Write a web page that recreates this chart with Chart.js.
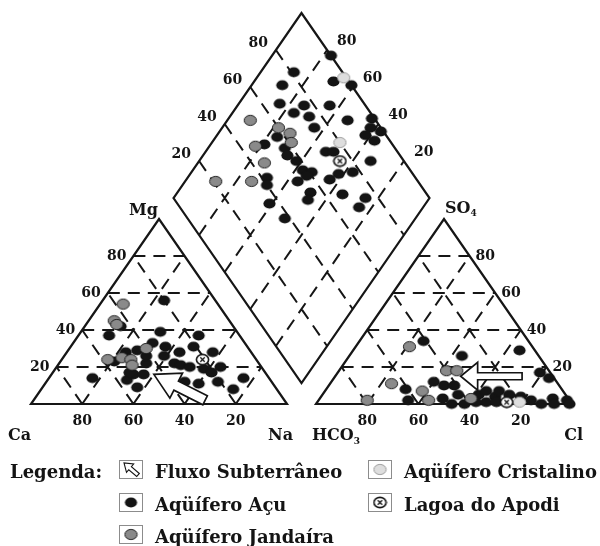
<!DOCTYPE html>
<html lang="pt">
<head>
<meta charset="UTF-8">
<title>Diagrama de Piper</title>
<script src="https://cdn.jsdelivr.net/npm/chart.js"></script>
<style>
body { margin: 0; background: #fff; }
#piper { display: block; }
</style>
</head>
<body>
<canvas id="piper" width="600" height="546"></canvas>
<script>
const gridSteps = [20, 40, 60, 80];

// cation triangle: [Na+K %, Mg %]
const cationAcu = [[24,56],[14,42],[12,37],[31,39],[47,37],[31,33],[27,29],[23,28],[37,31],[48,31],[57,28],[39,26],[44,28],[21,23],[34,22],[45,22],[48,21],[52,20],[58,19],[64,20],[62,17],[32,16],[36,16],[31,13],[17,14],[37,9],[54,12],[60,11],[67,12],[76,14],[75,8],[32,26],[30,17]];
const cationJandaira = [[9,54],[10,45],[12,43],[18,24],[23,25],[27,24],[29,21],[30,30]];
const cationLagoa = [[55,24]];

// anion triangle: [Cl %, SO4 %]
const anionAcu = [[25,34],[44,26],[65,29],[79,17],[84,14],[40,12],[45,10],[49,10],[31,8],[35,2],[48,3],[53,0],[53,5],[58,0],[61,5],[63,7],[68,4],[68,7],[73,5],[66,1],[70,1],[83,2],[88,0],[91,3],[93,0],[97,2],[99,0],[62,1],[78,4]];
const anionJandaira = [[21,31],[42,18],[46,18],[24,11],[38,7],[43,2],[19,2],[59,3]];
const anionCristalino = [[79,1]];
const anionLagoa = [[74,1]];

// diamond: [Na+K %, SO4+Cl %]
const diamondAcu = [[23,100],[13,81],[31,94],[39,100],[12,73],[16,67],[24,70],[26,76],[31,75],[36,86],[36,74],[47,89],[56,99],[58,96],[63,99],[58,92],[63,94],[24,57],[21,50],[30,57],[33,56],[38,58],[47,72],[50,75],[67,87],[43,58],[47,61],[44,53],[46,58],[58,71],[56,66],[63,77],[31,42],[33,40],[52,55],[53,52],[65,67],[75,75],[75,70],[39,36],[49,38]];
const diamondJandaira = [[9,51],[22,60],[28,63],[31,61],[18,46],[26,45],[26,35],[12,21]];
const diamondCristalino = [[34,99],[50,80]];
const diamondLagoa = [[55,75]];

// groundwater flow arrows (from -> to)
const flowCation = { from: [67, 2], to: [40, 16] };
const flowAnion = { from: [73, 15], to: [49, 15] };

const GAP = 29 / 256;
const cat = p => ({ x: (p[0] + p[1] / 2) / 100, y: p[1] / 100 });
const ani = p => ({ x: 1 + GAP + (p[0] + p[1] / 2) / 100, y: p[1] / 100 });
const dia = p => ({ x: (p[0] + p[1]) / 200 + (1 + GAP) / 2, y: 1 + GAP + (p[1] - p[0]) / 100 });

function makeMarker(fill, stroke, lw, cross) {
  const c = document.createElement('canvas');
  c.width = 15; c.height = 13;
  const g = c.getContext('2d');
  g.beginPath();
  g.ellipse(7.5, 6.5, 6.1, 5.1, 0, 0, Math.PI * 2);
  g.fillStyle = fill;
  g.fill();
  if (stroke) { g.lineWidth = lw; g.strokeStyle = stroke; g.stroke(); }
  if (cross) {
    g.beginPath();
    g.moveTo(5.3, 4.3); g.lineTo(9.7, 8.7);
    g.moveTo(9.7, 4.3); g.lineTo(5.3, 8.7);
    g.lineWidth = 1.3; g.stroke();
  }
  return c;
}
const mkAcu = makeMarker('#141414');
const mkJandaira = makeMarker('#8a8a8a', '#1e1e1e', 1);
const mkCristalino = makeMarker('#dedede', '#9a9a9a', 1);
const mkLagoa = makeMarker('#ffffff', '#141414', 1.6, true);

function drawArrow(ctx, a, b, w, hw, hl, lw) {
  const dx = b[0] - a[0], dy = b[1] - a[1], L = Math.hypot(dx, dy);
  const ux = dx / L, uy = dy / L, nx = -uy, ny = ux;
  const k = [b[0] - ux * hl, b[1] - uy * hl];
  const pts = [
    [a[0] + nx * w, a[1] + ny * w], [k[0] + nx * w, k[1] + ny * w], [k[0] + nx * hw, k[1] + ny * hw],
    b, [k[0] - nx * hw, k[1] - ny * hw], [k[0] - nx * w, k[1] - ny * w], [a[0] - nx * w, a[1] - ny * w]
  ];
  ctx.beginPath();
  pts.forEach((p, i) => i ? ctx.lineTo(p[0], p[1]) : ctx.moveTo(p[0], p[1]));
  ctx.closePath();
  ctx.fillStyle = '#fff';
  ctx.fill();
  ctx.lineWidth = lw;
  ctx.strokeStyle = '#141414';
  ctx.stroke();
}

const piperFrame = {
  id: 'piperFrame',
  beforeDatasetsDraw(chart) {
    const ctx = chart.ctx;
    const px = pt => [chart.scales.x.getPixelForValue(pt.x), chart.scales.y.getPixelForValue(pt.y)];
    const seg = (a, b) => { const p = px(a), q = px(b); ctx.moveTo(p[0], p[1]); ctx.lineTo(q[0], q[1]); };
    ctx.save();
    ctx.strokeStyle = '#161616';
    ctx.lineWidth = 2;
    ctx.setLineDash([12, 8]);
    ctx.beginPath();
    gridSteps.forEach(v => {
      seg(cat([0, v]), cat([100 - v, v]));
      seg(cat([v, 0]), cat([v, 100 - v]));
      seg(cat([100 - v, 0]), cat([0, 100 - v]));
      seg(ani([0, v]), ani([100 - v, v]));
      seg(ani([v, 0]), ani([v, 100 - v]));
      seg(ani([100 - v, 0]), ani([0, 100 - v]));
      seg(dia([v, 0]), dia([v, 100]));
      seg(dia([0, v]), dia([100, v]));
    });
    ctx.stroke();

    ctx.setLineDash([]);
    ctx.lineWidth = 2.2;
    ctx.lineJoin = 'miter';
    const poly = pts => {
      ctx.beginPath();
      pts.forEach((p, i) => { const q = px(p); i ? ctx.lineTo(q[0], q[1]) : ctx.moveTo(q[0], q[1]); });
      ctx.closePath();
      ctx.stroke();
    };
    poly([cat([0, 0]), cat([100, 0]), cat([0, 100])]);
    poly([ani([0, 0]), ani([100, 0]), ani([0, 100])]);
    poly([dia([0, 0]), dia([0, 100]), dia([100, 100]), dia([100, 0])]);
    ctx.restore();
  },
  afterDatasetsDraw(chart) {
    const ctx = chart.ctx;
    const px = pt => [chart.scales.x.getPixelForValue(pt.x), chart.scales.y.getPixelForValue(pt.y)];
    ctx.save();
    drawArrow(ctx, px(cat(flowCation.from)), px(cat(flowCation.to)), 5, 14, 25, 1.7);
    drawArrow(ctx, px(ani(flowAnion.from)), px(ani(flowAnion.to)), 3.5, 14, 17, 1.7);

    const text = (s, pt, dx, dy, align, base) => {
      const p = px(pt);
      ctx.textAlign = align;
      ctx.textBaseline = base || 'alphabetic';
      ctx.fillText(s, p[0] + dx, p[1] + dy);
    };
    ctx.fillStyle = '#141414';
    ctx.font = 'bold 14px "DejaVu Serif"';
    gridSteps.forEach(v => {
      const s = String(v);
      text(s, cat([0, v]), -7, 0, 'right', 'middle');
      text(s, cat([100 - v, 0]), 0, 21, 'center');
      text(s, ani([100 - v, 0]), 0, 21, 'center');
      text(s, ani([100 - v, v]), 6, 0, 'left', 'middle');
      text(s, dia([0, v]), -8, -7, 'right', 'middle');
      text(s, dia([100 - v, 100]), 10, -9, 'left', 'middle');
    });

    ctx.font = 'bold 16px "DejaVu Serif"';
    text('Ca', cat([0, 0]), -23, 36, 'left');
    text('Na', cat([100, 0]), 6, 36, 'right');
    text('Cl', ani([100, 0]), 11, 36, 'right');
    text('Mg', cat([0, 100]), -1, -4, 'right');
    text('HCO', ani([0, 0]), -4, 36, 'left');
    const hco = ctx.measureText('HCO').width;
    text('SO', ani([0, 100]), 1, -6, 'left');
    const so = ctx.measureText('SO').width;
    ctx.font = 'bold 9px "DejaVu Serif"';
    text('3', ani([0, 0]), -4 + hco, 40, 'left');
    text('4', ani([0, 100]), 1 + so, -3, 'left');
    ctx.restore();
  },
  afterDraw(chart) {
    const ctx = chart.ctx;
    ctx.save();
    const box = (x, y) => {
      ctx.fillStyle = '#fff';
      ctx.fillRect(x, y, 24, 19);
      ctx.lineWidth = 1;
      ctx.strokeStyle = '#8c8c8c';
      ctx.strokeRect(x + 0.5, y + 0.5, 23, 18);
    };
    const items = [
      { x: 119, y: 460, label: 'Fluxo Subterrâneo', icon: null },
      { x: 119, y: 493, label: 'Aqüífero Açu', icon: mkAcu },
      { x: 119, y: 525, label: 'Aqüífero Jandaíra', icon: mkJandaira },
      { x: 368, y: 460, label: 'Aqüífero Cristalino', icon: mkCristalino },
      { x: 368, y: 493, label: 'Lagoa do Apodi', icon: mkLagoa }
    ];
    ctx.font = 'bold 18px "DejaVu Serif"';
    ctx.textBaseline = 'alphabetic';
    ctx.textAlign = 'left';
    ctx.fillStyle = '#141414';
    ctx.fillText('Legenda:', 10, 478);
    items.forEach(it => {
      box(it.x, it.y);
      if (it.icon) {
        ctx.drawImage(it.icon, it.x + 12 - 7.5, it.y + 9.5 - 6.5);
      } else {
        drawArrow(ctx, [it.x + 19, it.y + 15], [it.x + 5, it.y + 3], 2, 5.5, 8, 1.1);
      }
      ctx.fillStyle = '#141414';
      ctx.fillText(it.label, it.x + 36, it.y + 18);
    });
    ctx.restore();
  }
};

const series = [
  { pts: cationLagoa.map(cat).concat(anionLagoa.map(ani), diamondLagoa.map(dia)), img: mkLagoa, order: 1 },
  { pts: anionCristalino.map(ani).concat(diamondCristalino.map(dia)), img: mkCristalino, order: 2 },
  { pts: cationJandaira.map(cat).concat(anionJandaira.map(ani), diamondJandaira.map(dia)), img: mkJandaira, order: 3 },
  { pts: cationAcu.map(cat).concat(anionAcu.map(ani), diamondAcu.map(dia)), img: mkAcu, order: 4 }
];

new Chart(document.getElementById('piper').getContext('2d'), {
  type: 'scatter',
  data: {
    datasets: series.map(s => ({
      data: s.pts,
      pointStyle: s.img,
      pointRadius: 6,
      clip: false,
      order: s.order
    }))
  },
  options: {
    responsive: false,
    animation: false,
    devicePixelRatio: 1,
    events: [],
    layout: { padding: { left: 31, right: 600 - 31 - 256 * (2 + GAP), top: 404 - 185 * (2 + GAP), bottom: 142 } },
    scales: {
      x: { type: 'linear', display: false, min: 0, max: 2 + GAP },
      y: { type: 'linear', display: false, min: 0, max: 2 + GAP }
    },
    plugins: { legend: { display: false }, tooltip: { enabled: false } }
  },
  plugins: [piperFrame]
});
</script>
</body>
</html>
